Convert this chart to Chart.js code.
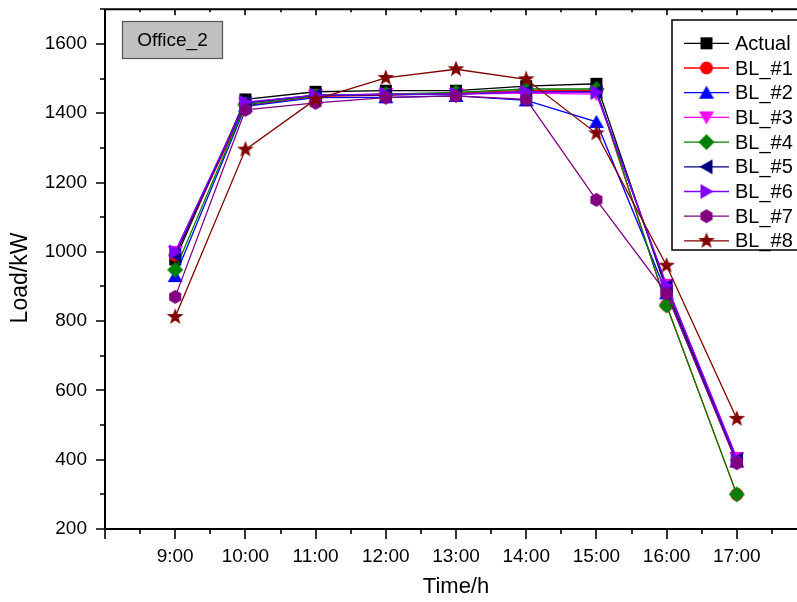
<!DOCTYPE html>
<html>
<head>
<meta charset="utf-8">
<script src="https://cdn.jsdelivr.net/npm/chart.js@4/dist/chart.umd.min.js"></script>
<style>
  html, body { margin: 0; padding: 0; background: #fff; overflow: hidden; width: 797px; height: 602px; }
  #wrap { position: absolute; left: 0; top: 0; width: 820px; height: 602px; }
</style>
</head>
<body>
<div id="wrap"><canvas id="c" width="820" height="602"></canvas></div>
<script>
// Hour of day for each sample and the matching tick text
const hours = [9, 10, 11, 12, 13, 14, 15, 16, 17];
const hourLabels = ['9:00', '10:00', '11:00', '12:00', '13:00', '14:00', '15:00', '16:00', '17:00'];
const yTicks = [200, 400, 600, 800, 1000, 1200, 1400, 1600];

// Load (kW) per series
const actual = [978, 1440, 1462, 1465, 1465, 1478, 1485, 888, 402];
const bl1 = [990, 1422, 1448, 1452, 1458, 1466, 1466, 846, 300];
const bl2 = [930, 1420, 1445, 1446, 1450, 1437, 1375, 880, 395];
const bl3 = [1000, 1428, 1452, 1455, 1455, 1458, 1455, 905, 405];
const bl4 = [948, 1425, 1450, 1455, 1460, 1470, 1470, 845, 300];
const bl5 = [990, 1430, 1452, 1453, 1455, 1462, 1462, 900, 400];
const bl6 = [1000, 1432, 1452, 1455, 1455, 1462, 1460, 902, 402];
const bl7 = [870, 1410, 1430, 1445, 1450, 1440, 1150, 880, 390];
const bl8 = [812, 1295, 1440, 1502, 1527, 1498, 1342, 960, 518];

const seriesNames = ['Actual', 'BL_#1', 'BL_#2', 'BL_#3', 'BL_#4', 'BL_#5', 'BL_#6', 'BL_#7', 'BL_#8'];
const seriesValues = [actual, bl1, bl2, bl3, bl4, bl5, bl6, bl7, bl8];
const seriesColors = ['#000000', '#ff0000', '#0000ff', '#ff00ff', '#008000', '#000080', '#8000ff', '#800080', '#800000'];
const seriesShapes = ['square', 'circle', 'up', 'down', 'diamond', 'left', 'right', 'hexagon', 'star'];

const FONT = '"Liberation Sans", Arial, sans-serif';

// Build a small sprite for each marker shape
function makeMarker(shape, color) {
  const S = 20, c = S / 2;
  const cv = document.createElement('canvas');
  cv.width = S; cv.height = S;
  const g = cv.getContext('2d');
  g.fillStyle = color;
  g.beginPath();
  const poly = pts => { g.moveTo(c + pts[0][0], c + pts[0][1]); for (let i = 1; i < pts.length; i++) g.lineTo(c + pts[i][0], c + pts[i][1]); g.closePath(); };
  switch (shape) {
    case 'square': g.rect(c - 6, c - 6, 12, 12); break;
    case 'circle': g.arc(c, c, 6.5, 0, Math.PI * 2); break;
    case 'up': poly([[0, -7], [7.5, 6], [-7.5, 6]]); break;
    case 'down': poly([[0, 7], [7.5, -6], [-7.5, -6]]); break;
    case 'left': poly([[-7, 0], [6, -7.5], [6, 7.5]]); break;
    case 'right': poly([[7, 0], [-6, -7.5], [-6, 7.5]]); break;
    case 'diamond': poly([[0, -8], [8, 0], [0, 8], [-8, 0]]); break;
    case 'hexagon': {
      const p = [];
      for (let i = 0; i < 6; i++) { const a = Math.PI / 6 + i * Math.PI / 3; p.push([7 * Math.cos(a), 7 * Math.sin(a)]); }
      poly(p); break;
    }
    case 'star': {
      const p = [];
      for (let i = 0; i < 10; i++) { const r = i % 2 ? 3.6 : 8.8; const a = -Math.PI / 2 + i * Math.PI / 5; p.push([r * Math.cos(a), r * Math.sin(a)]); }
      poly(p); break;
    }
  }
  g.fill();
  return cv;
}

const markers = seriesShapes.map((s, i) => makeMarker(s, seriesColors[i]));

const datasets = seriesNames.map((name, i) => ({
  label: name,
  data: hours.map((h, k) => ({ x: h, y: seriesValues[i][k] })),
  borderColor: seriesColors[i],
  backgroundColor: seriesColors[i],
  borderWidth: 1.3,
  tension: 0,
  pointStyle: markers[i],
  pointRadius: 8,
  pointHoverRadius: 8,
  order: seriesNames.length - i
}));

// Frame, ticks, axis titles, panel tag and legend
const decor = {
  id: 'decor',
  afterDatasetsDraw(chart) {
    const { ctx, chartArea: a, scales: { x, y } } = chart;
    ctx.save();
    ctx.strokeStyle = '#000';
    ctx.lineWidth = 2;
    ctx.beginPath();
    ctx.moveTo(a.left, a.top); ctx.lineTo(a.right, a.top);
    ctx.moveTo(a.left, a.top); ctx.lineTo(a.left, a.bottom);
    ctx.moveTo(a.left, a.bottom); ctx.lineTo(a.right, a.bottom);
    ctx.moveTo(a.right, a.top); ctx.lineTo(a.right, a.bottom);
    ctx.stroke();
    ctx.lineWidth = 1.6;
    ctx.beginPath();
    for (let h = x.min; h <= x.max + 1e-6; h += 0.5) {
      const px = Math.round(x.getPixelForValue(h));
      const major = Math.abs(h - Math.round(h)) < 1e-6;
      ctx.moveTo(px, a.bottom); ctx.lineTo(px, a.bottom + (major ? 10 : 5));
      ctx.moveTo(px, a.top); ctx.lineTo(px, a.top + (major ? 6 : 3));
    }
    for (let v = y.min; v <= y.max + 1e-6; v += 100) {
      const py = Math.round(y.getPixelForValue(v));
      const major = v % 200 === 0;
      ctx.moveTo(a.left, py); ctx.lineTo(a.left - (major ? 9 : 5), py);
      ctx.moveTo(a.right, py); ctx.lineTo(a.right - (major ? 6 : 3), py);
    }
    ctx.stroke();

    // axis titles
    ctx.fillStyle = '#000';
    ctx.font = '22px ' + FONT;
    ctx.textAlign = 'center';
    ctx.textBaseline = 'middle';
    ctx.fillText('Time/h', 456, 587);
    ctx.save();
    ctx.translate(21, 278);
    ctx.rotate(-Math.PI / 2);
    ctx.font = '23px ' + FONT;
    ctx.fillText('Load/kW', 0, 0);
    ctx.restore();

    // panel tag
    ctx.fillStyle = '#c0c0c0';
    ctx.fillRect(122, 21, 100, 37);
    ctx.strokeStyle = '#555';
    ctx.lineWidth = 1.2;
    ctx.strokeRect(122.5, 21.5, 100, 37);
    ctx.fillStyle = '#000';
    ctx.font = '19px ' + FONT;
    ctx.fillText('Office_2', 172.5, 41);

    // legend
    ctx.fillStyle = '#fff';
    ctx.fillRect(672, 20, 160, 230);
    ctx.strokeStyle = '#000';
    ctx.lineWidth = 1.5;
    ctx.strokeRect(672, 20, 160, 230);
    ctx.textAlign = 'left';
    ctx.font = '20px ' + FONT;
    chart.data.datasets.forEach((ds, i) => {
      const ly = 43.3 + i * 24.7;
      ctx.strokeStyle = ds.borderColor;
      ctx.lineWidth = 1.3;
      ctx.beginPath();
      ctx.moveTo(684, ly); ctx.lineTo(729, ly);
      ctx.stroke();
      ctx.drawImage(ds.pointStyle, 706.5 - 10, ly - 10);
      ctx.fillStyle = '#000';
      ctx.fillText(ds.label, 735, ly + 1);
    });
    ctx.restore();
  }
};

new Chart(document.getElementById('c'), {
  type: 'line',
  data: { datasets },
  plugins: [decor],
  options: {
    responsive: false,
    animation: false,
    events: [],
    layout: { padding: { left: 0, top: 9, right: 13, bottom: 0 } },
    plugins: { legend: { display: false }, tooltip: { enabled: false } },
    scales: {
      x: {
        type: 'linear', position: 'bottom', min: 8, max: 18,
        grid: { display: false, drawTicks: false },
        border: { display: false },
        ticks: {
          stepSize: 1, autoSkip: false, maxRotation: 0, padding: 16,
          color: '#000', font: { family: FONT, size: 19 },
          callback: v => { const k = hours.indexOf(v); return k >= 0 ? hourLabels[k] : ''; }
        },
        afterFit: s => { s.height = 73; s.paddingLeft = 0; s.paddingRight = 0; }
      },
      y: {
        type: 'linear', position: 'left', min: 200, max: 1700,
        grid: { display: false, drawTicks: false },
        border: { display: false },
        ticks: {
          stepSize: 100, autoSkip: false, padding: 18,
          color: '#000', font: { family: FONT, size: 19 },
          callback: v => yTicks.includes(v) ? String(v) : ''
        },
        afterFit: s => { s.width = 105; s.paddingTop = 0; s.paddingBottom = 0; }
      }
    }
  }
});
</script>
</body>
</html>
